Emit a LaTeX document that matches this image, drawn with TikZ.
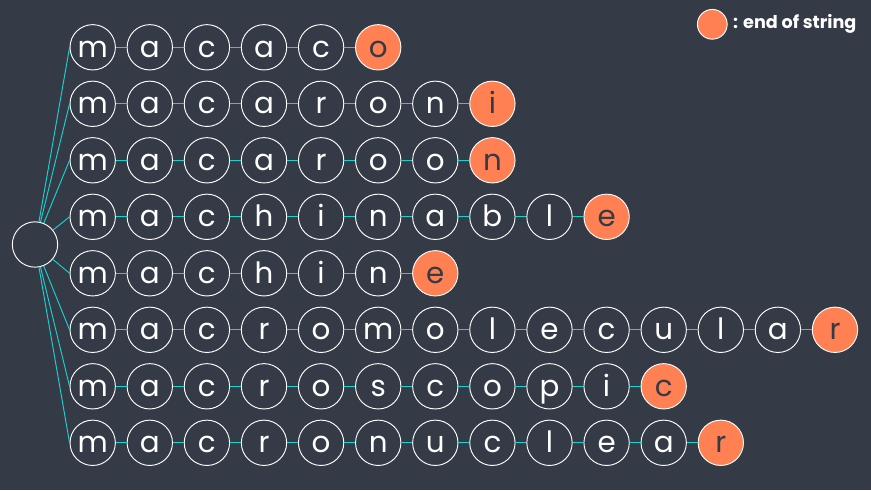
\documentclass[tikz,border=0pt]{standalone}
\usepackage{fontspec}
\setmainfont{Poppins}
\usetikzlibrary{positioning}
\definecolor{bgcol}{HTML}{343B46}
\definecolor{linkcol}{HTML}{19D3D3}
\definecolor{endcol}{HTML}{FF8052}
\tikzset{
	char/.style={circle, draw=white, line width=0.7pt, minimum size=34pt, inner sep=0pt,
		text height=14.6pt, text depth=0pt, text=white, font=\fontsize{22}{22}\selectfont},
	endchar/.style={char, fill=endcol, text=bgcol},
	link/.style={linkcol, line width=0.7pt}
}
\begin{document}
\begin{tikzpicture}[x=0.75pt, y=-0.75pt]
			
			%Background
			\fill [bgcol] (0,0) rectangle (871,490);
			\useasboundingbox (0,0) rectangle (871,490);
			
			%Root
			\node (root) at (35,244.5) [char] {};
			
			%Words
			\foreach \n/\word [count=\i] in {6/{m,a,c,a,c,o}, 8/{m,a,c,a,r,o,n,i},
				8/{m,a,c,a,r,o,o,n}, 10/{m,a,c,h,i,n,a,b,l,e}, 7/{m,a,c,h,i,n,e},
				14/{m,a,c,r,o,m,o,l,e,c,u,l,a,r}, 11/{m,a,c,r,o,s,c,o,p,i,c},
				12/{m,a,c,r,o,n,u,c,l,e,a,r}}
			{
				\foreach \l [count=\j] in \word
				{
					\ifnum\j=\n \def\st{endchar}\else\def\st{char}\fi
					\node (w\i-\j) at ({92.7+57.1*(\j-1)},{47.3+56.5*(\i-1)}) [\st] {\l};
					\ifnum\j=1
						\draw [link] (root) -- (w\i-1.west);
					\else
						\pgfmathtruncatemacro\p{\j-1}
						\draw [link] (w\i-\p) -- (w\i-\j);
					\fi
				}
			}
			
			%Legend
			\node (legend) at (712.3,24.3) [circle, draw=white, line width=0.7pt, fill=endcol,
			minimum size=22.3pt, inner sep=0pt] {};
			\node (legendtext) [right=4pt of legend, inner sep=0pt, text=white,
			font=\fontsize{13.2}{13.2}\selectfont\bfseries] {: end of string};
			
			\end{tikzpicture}
\end{document}
